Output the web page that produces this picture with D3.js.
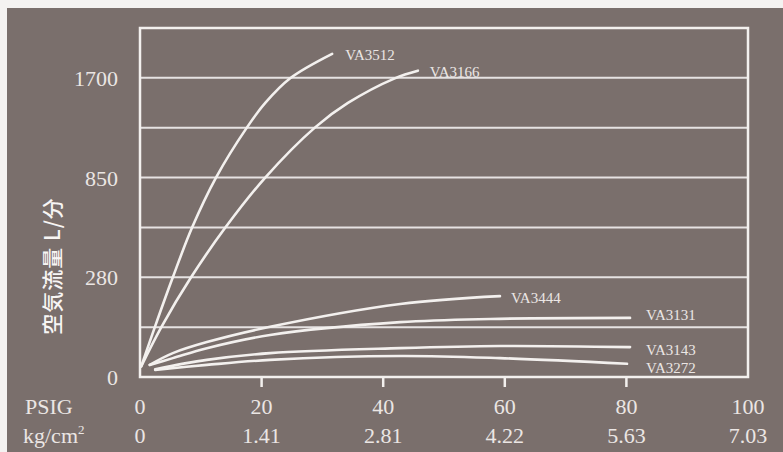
<!DOCTYPE html>
<html>
<head>
<meta charset="utf-8">
<script src="https://cdn.jsdelivr.net/npm/d3@7"></script>
<style>
html,body{margin:0;padding:0;background:#f4f2f1;}
svg{display:block;}
</style>
</head>
<body>
<svg id="chart"></svg>
<script>
// 横轴 PSIG 刻度与对应 kg/cm2
var psigTicks = [0, 20, 40, 60, 80, 100];
var kgTicks = ["0", "1.41", "2.81", "4.22", "5.63", "7.03"];
// 纵轴刻度 (不等距)
var flowTicks = [0, 280, 850, 1700];
var flowTop = 2125;

// 各型号曲线: 压力(PSIG) / 流量(L/分)
var names = ["VA3512", "VA3166", "VA3444", "VA3131", "VA3143", "VA3272"];
var psig3512 = [0.2, 2.5, 5.4, 8.6, 12.5, 17.6, 20.6, 24.7, 31.6];
var flow3512 = [30, 143, 280, 567, 850, 1278, 1486, 1696, 1904];
var psig3166 = [0.2, 3.6, 8.4, 14.1, 20.6, 28.8, 34.2, 41.9, 45.7];
var flow3166 = [30, 143, 280, 567, 850, 1278, 1486, 1696, 1761];
var psig3444 = [1.6, 5.4, 11.0, 21.4, 42.8, 59.2];
var flow3444 = [34, 67, 98, 141, 205, 227];
var psig3131 = [1.6, 5.4, 11.0, 21.4, 42.8, 57.6, 80.6];
var flow3131 = [34, 53, 81, 118, 154, 163, 166];
var psig3143 = [2.5, 11.0, 21.4, 42.8, 59.2, 80.6];
var flow3143 = [22, 48, 67, 81, 87, 84];
var psig3272 = [2.5, 11.0, 21.4, 42.8, 59.2, 80.1];
var flow3272 = [20, 34, 48, 59, 53, 37];

var W = 783, H = 452;
var pLeft = 140, pRight = 748, pTop = 28, pBottom = 377;
var bg = "#7a6f6c", fg = "#f3f0ee", txt = "#ebe6e4";

var svg = d3.select("#chart").attr("width", W).attr("height", H);
svg.append("rect").attr("x", 7).attr("y", 8).attr("width", W - 7).attr("height", H - 8).attr("fill", bg);

var x = d3.scaleLinear().domain([0, 100]).range([pLeft, pRight]);
// 网格线等距, 每两格一个刻度
var grid = d3.scaleLinear().domain([0, 7]).range([pBottom, pTop]);
var y = d3.scaleLinear()
  .domain(flowTicks.concat([flowTop]))
  .range([grid(0), grid(2), grid(4), grid(6), grid(7)]);

var g = svg.append("g");
g.selectAll("line.grid").data(d3.range(1, 7)).enter().append("line")
  .attr("x1", pLeft).attr("x2", pRight)
  .attr("y1", function(d){ return grid(d); })
  .attr("y2", function(d){ return grid(d); })
  .attr("stroke", "#e6e2e2").attr("stroke-width", 2);

g.append("rect").attr("x", pLeft).attr("y", pTop)
  .attr("width", pRight - pLeft).attr("height", pBottom - pTop)
  .attr("fill", "none").attr("stroke", fg).attr("stroke-width", 2.5);

// 底部小刻度
g.selectAll("line.tick").data(psigTicks.slice(1, 5)).enter().append("line")
  .attr("x1", function(d){ return x(d); }).attr("x2", function(d){ return x(d); })
  .attr("y1", pBottom).attr("y2", pBottom + 10)
  .attr("stroke", fg).attr("stroke-width", 2.5);

var serif = "'Liberation Serif','DejaVu Serif',serif";

g.selectAll("text.ylab").data(flowTicks).enter().append("text")
  .text(function(d){ return d; })
  .attr("x", 118).attr("y", function(d){ return y(d) + 8; })
  .attr("text-anchor", "end").attr("font-family", serif)
  .attr("font-size", 22).attr("fill", txt);

g.selectAll("text.psig").data(psigTicks).enter().append("text")
  .text(function(d){ return d; })
  .attr("x", function(d){ return x(d); }).attr("y", 414)
  .attr("text-anchor", "middle").attr("font-family", serif)
  .attr("font-size", 22).attr("fill", txt);

g.selectAll("text.kg").data(kgTicks).enter().append("text")
  .text(function(d){ return d; })
  .attr("x", function(d, i){ return x(psigTicks[i]); }).attr("y", 443)
  .attr("text-anchor", "middle").attr("font-family", serif)
  .attr("font-size", 22).attr("fill", txt);

g.append("text").text("PSIG").attr("x", 25).attr("y", 414)
  .attr("font-family", serif).attr("font-size", 22).attr("fill", txt);
var kg = g.append("text").attr("x", 23).attr("y", 443)
  .attr("font-family", serif).attr("font-size", 22).attr("fill", txt);
kg.append("tspan").text("kg/cm");
kg.append("tspan").text("2").attr("font-size", 13).attr("dy", -9);

g.append("text").text("空気流量  L/分")
  .attr("transform", "translate(60,266) rotate(-90)")
  .attr("text-anchor", "middle")
  .attr("font-family", "'Noto Sans CJK JP','Noto Sans CJK SC',sans-serif")
  .attr("font-size", 21).attr("font-weight", 500).attr("letter-spacing", 1)
  .attr("fill", "#f7f5f4");

var series = [
  {name: names[0], p: psig3512, f: flow3512, dx: 13, dy: 6},
  {name: names[1], p: psig3166, f: flow3166, dx: 12, dy: 6},
  {name: names[2], p: psig3444, f: flow3444, dx: 11, dy: 7},
  {name: names[3], p: psig3131, f: flow3131, dx: 16, dy: 2},
  {name: names[4], p: psig3143, f: flow3143, dx: 16, dy: 8},
  {name: names[5], p: psig3272, f: flow3272, dx: 19, dy: 9}
];

var line = d3.line()
  .x(function(d){ return x(d[0]); })
  .y(function(d){ return y(d[1]); })
  .curve(d3.curveCatmullRom.alpha(0.5));

series.forEach(function(s){
  var pts = d3.zip(s.p, s.f);
  g.append("path").attr("d", line(pts))
    .attr("fill", "none").attr("stroke", fg)
    .attr("stroke-width", 2.6).attr("stroke-linecap", "round");
  var last = pts[pts.length - 1];
  g.append("text").text(s.name)
    .attr("x", x(last[0]) + s.dx).attr("y", y(last[1]) + s.dy)
    .attr("font-family", serif).attr("font-size", 15)
    .attr("fill", txt);
});
</script>
</body>
</html>
